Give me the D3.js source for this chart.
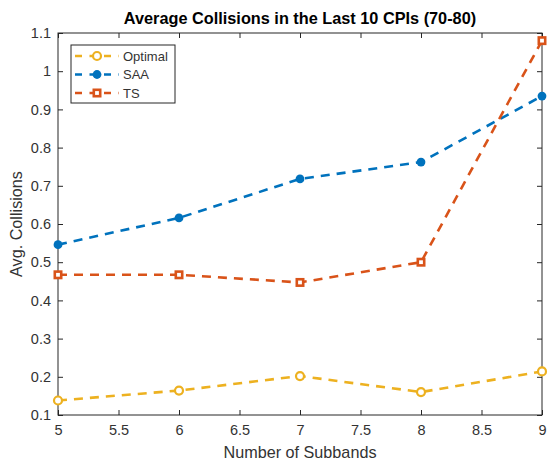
<!DOCTYPE html>
<html>
<head>
<meta charset="utf-8">
<script src="https://cdn.jsdelivr.net/npm/d3@7"></script>
<style>
  body { margin: 0; background: #fff; }
  svg { display: block; font-family: "Liberation Sans", Arial, sans-serif; }
</style>
</head>
<body>
<script>
// values
var subbands = [5, 6, 7, 8, 9];
var optimal = [0.138, 0.164, 0.202, 0.160, 0.214];
var saa = [0.546, 0.616, 0.718, 0.762, 0.935];
var ts = [0.467, 0.467, 0.447, 0.500, 1.080];
var xTicks = [5, 5.5, 6, 6.5, 7, 7.5, 8, 8.5, 9];
var yTicks = [0.1, 0.2, 0.3, 0.4, 0.5, 0.6, 0.7, 0.8, 0.9, 1, 1.1];

var series = [
    { name: "Optimal", values: optimal, color: "#EDB120", marker: "ocircle" },
    { name: "SAA", values: saa, color: "#0072BD", marker: "circle" },
    { name: "TS", values: ts, color: "#D95319", marker: "square" }
];

var W = 549, H = 462,
    margin = { top: 33, right: 7, bottom: 47, left: 58 },
    width = W - margin.left - margin.right,
    height = H - margin.top - margin.bottom;

var svg = d3.select("body").append("svg")
    .attr("width", W)
    .attr("height", H);

var x = d3.scaleLinear().domain([5, 9]).range([0, width]);
var y = d3.scaleLinear().domain([0.1, 1.1]).range([height, 0]);

var g = svg.append("g")
    .attr("transform", "translate(" + margin.left + "," + margin.top + ")");

var axisColor = "#262626",
    textColor = "#333";

function styleAxis(sel, showText) {
    sel.select(".domain").remove();
    sel.selectAll(".tick line").attr("stroke", axisColor).attr("stroke-width", 1);
    sel.selectAll(".tick text")
        .attr("fill", textColor)
        .style("font-size", "14.5px")
        .style("display", showText ? null : "none");
}

g.append("g")
    .attr("transform", "translate(0," + height + ")")
    .call(d3.axisBottom(x).tickValues(xTicks).tickSize(-5).tickPadding(10).tickFormat(d3.format("")))
    .call(styleAxis, true);
g.append("g")
    .call(d3.axisTop(x).tickValues(xTicks).tickSize(-5).tickFormat(""))
    .call(styleAxis, false);
g.append("g")
    .call(d3.axisLeft(y).tickValues(yTicks).tickSize(-5).tickPadding(7).tickFormat(d3.format("")))
    .call(styleAxis, true);
g.append("g")
    .attr("transform", "translate(" + width + ",0)")
    .call(d3.axisRight(y).tickValues(yTicks).tickSize(-5).tickFormat(""))
    .call(styleAxis, false);

g.append("rect")
    .attr("width", width)
    .attr("height", height)
    .attr("fill", "none")
    .attr("stroke", axisColor)
    .attr("stroke-width", 1);

var line = d3.line()
    .x(function (d, i) { return x(subbands[i]); })
    .y(function (d) { return y(d); });

function drawMarker(sel, s, cx, cy) {
    if (s.marker === "square") {
        sel.append("rect")
            .attr("x", cx - 3.2).attr("y", cy - 3.2)
            .attr("width", 6.4).attr("height", 6.4)
            .attr("fill", "#fff")
            .attr("stroke", s.color)
            .attr("stroke-width", 2.6);
    } else if (s.marker === "circle") {
        sel.append("circle")
            .attr("cx", cx).attr("cy", cy)
            .attr("r", 4.4)
            .attr("fill", s.color);
    } else {
        sel.append("circle")
            .attr("cx", cx).attr("cy", cy)
            .attr("r", 4)
            .attr("fill", "#fff")
            .attr("stroke", s.color)
            .attr("stroke-width", 2.2);
    }
}

series.forEach(function (s) {
    g.append("path")
        .datum(s.values)
        .attr("d", line)
        .attr("fill", "none")
        .attr("stroke", s.color)
        .attr("stroke-width", 2.6)
        .attr("stroke-dasharray", "9,7");
    var mg = g.append("g");
    s.values.forEach(function (v, i) {
        drawMarker(mg, s, x(subbands[i]), y(v));
    });
});

// legend
var lg = svg.append("g").attr("transform", "translate(71,45)");
lg.append("rect")
    .attr("width", 104)
    .attr("height", 58)
    .attr("fill", "#fff")
    .attr("stroke", axisColor)
    .attr("stroke-width", 1);
series.forEach(function (s, i) {
    var yy = 11 + i * 18.5;
    lg.append("line")
        .attr("x1", 4).attr("x2", 48)
        .attr("y1", yy).attr("y2", yy)
        .attr("stroke", s.color)
        .attr("stroke-width", 2.6)
        .attr("stroke-dasharray", "7,7.5");
    drawMarker(lg, s, 26, yy);
    lg.append("text")
        .attr("x", 52).attr("y", yy)
        .attr("dy", "0.35em")
        .attr("fill", textColor)
        .style("font-size", "13px")
        .text(s.name);
});

// title and labels
svg.append("text")
    .attr("x", margin.left + width / 2)
    .attr("y", 24)
    .attr("text-anchor", "middle")
    .attr("fill", "#000")
    .style("font-size", "16.3px")
    .style("font-weight", "bold")
    .text("Average Collisions in the Last 10 CPIs (70-80)");

svg.append("text")
    .attr("x", margin.left + width / 2)
    .attr("y", 458)
    .attr("text-anchor", "middle")
    .attr("fill", textColor)
    .style("font-size", "16.2px")
    .text("Number of Subbands");

svg.append("text")
    .attr("transform", "translate(22," + (margin.top + height / 2) + ") rotate(-90)")
    .attr("text-anchor", "middle")
    .attr("fill", textColor)
    .style("font-size", "16.2px")
    .text("Avg. Collisions");
</script>
</body>
</html>
